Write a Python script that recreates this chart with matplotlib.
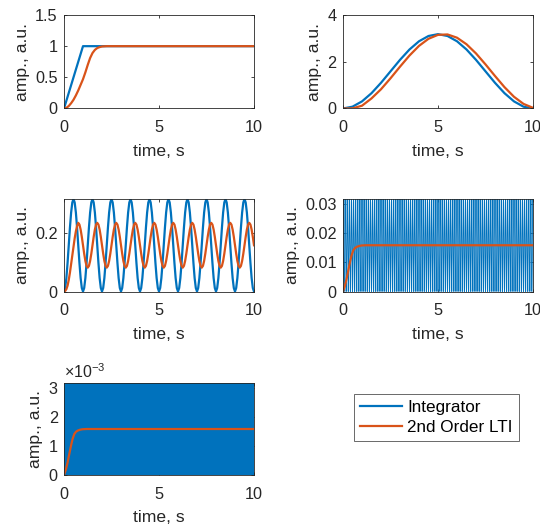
import numpy as np
import matplotlib
matplotlib.use("Agg")
import matplotlib.pyplot as plt
from matplotlib.ticker import FuncFormatter

plt.rcParams['font.family'] = ['Liberation Sans', 'DejaVu Sans']
plt.rcParams['mathtext.fontset'] = 'custom'
plt.rcParams['mathtext.rm'] = 'Liberation Sans'
plt.rcParams['mathtext.it'] = 'Liberation Sans'

# ---------------- data ----------------
series_labels = ["Integrator", "2nd Order LTI"]
x_ticks = [0, 5, 10]

# Panel 1: ramp to 1
p1_t_blue = [0, 1, 10]
p1_blue = [0, 1, 1]
p1_t_orange = [0, 0.125, 0.25, 0.375, 0.5, 0.625, 0.75, 0.875, 1.0, 1.125, 1.25,
               1.375, 1.5, 1.625, 1.75, 1.875, 2.0, 2.25, 10]
p1_orange = [0, 0.01, 0.04, 0.085, 0.14, 0.21, 0.29, 0.38, 0.47, 0.58, 0.70,
             0.81, 0.89, 0.94, 0.97, 0.985, 0.995, 1.0, 1.0]

# Panel 2: one slow hump
p2_t = [0, 0.5, 1, 1.5, 2, 2.5, 3, 3.5, 4, 4.5, 5, 5.5, 6, 6.5, 7, 7.5, 8, 8.5,
        9, 9.5, 10]
p2_blue = [0, 0.078, 0.304, 0.655, 1.099, 1.59, 2.081, 2.525, 2.876, 3.102, 3.18,
           3.102, 2.876, 2.525, 2.081, 1.59, 1.099, 0.655, 0.304, 0.078, 0]
p2_orange = [0, 0.006, 0.12, 0.431, 0.823, 1.292, 1.789, 2.267, 2.679, 2.983, 3.151,
             3.168, 3.029, 2.749, 2.356, 1.887, 1.391, 0.913, 0.501, 0.197, 0.028]

# Repeating integrator cycle shape (fraction of peak), 16 samples per cycle
cycle_shape = [0, 0.038, 0.146, 0.309, 0.5, 0.691, 0.854, 0.962,
               1, 0.962, 0.854, 0.691, 0.5, 0.309, 0.146, 0.038]
peaks = [0.318, 0.0318, 0.00318]        # panels 3, 4, 5
n_cycles = [10, 100, 1000]               # cycles across the 10 s window

# Panel 3 orange: start-up then one repeating cycle (starting at a peak, t=0.75 s)
p3_orange_start = [0, 0.002, 0.008, 0.02, 0.04, 0.065, 0.095, 0.125, 0.155,
                   0.183, 0.207, 0.225]
p3_orange_cycle = [0.236, 0.230, 0.213, 0.188, 0.159, 0.130, 0.105, 0.088,
                   0.082, 0.088, 0.105, 0.130, 0.159, 0.188, 0.213, 0.230]
p3_step = 0.0625

# Panels 4, 5 orange: rise to plateau (fraction of plateau)
rise_t = [0, 0.1, 0.19, 0.28, 0.37, 0.45, 0.54, 0.63, 0.72, 0.85, 0.98, 1.2, 10]
rise_frac = [0, 0.12, 0.275, 0.46, 0.64, 0.78, 0.89, 0.94, 0.965, 0.985, 0.995, 1, 1]
plateaus = [0.0159, 0.00159]

y_limits = [(0, 1.5), (0, 4), (0, 0.318), (0, 0.0318), (0, 0.00318)]
y_ticks = [[0, 0.5, 1, 1.5], [0, 2, 4], [0, 0.2], [0, 0.01, 0.02, 0.03],
           [0, 0.001, 0.002, 0.003]]

# ---------------- figure ----------------
W, H = 540, 527
fig = plt.figure(figsize=(W / 100, H / 100), dpi=100)

def pos(l, r, t, b):
    return [l / W, 1 - b / H, (r - l) / W, (b - t) / H]

rects = [pos(64, 254, 15, 108.5), pos(343, 533, 15, 108.5),
         pos(64, 254, 199, 291.5), pos(343, 533, 199, 291.5),
         pos(64, 254, 383, 475)]

BLUE = '#0072BD'
ORANGE = '#D95319'
GRAY = '#262626'
LW = 1.6
FS = 11.7
LFS = 12.6

axes = [fig.add_axes(r) for r in rects]

# panel 1
axes[0].plot(p1_t_blue, p1_blue, color=BLUE, lw=LW)
axes[0].plot(p1_t_orange, p1_orange, color=ORANGE, lw=LW)
# panel 2
axes[1].plot(p2_t, p2_blue, color=BLUE, lw=LW)
axes[1].plot(p2_t, p2_orange, color=ORANGE, lw=LW)

# panels 3-5 blue
blue_lw = [LW, 0.55, LW]
for i, ax in enumerate(axes[2:5]):
    n = n_cycles[i]
    vals = np.append(np.tile(cycle_shape, n), 0.0) * peaks[i]
    t = np.linspace(0, 10, len(vals))
    ax.plot(t, vals, color=BLUE, lw=blue_lw[i])

# panel 3 orange
p3_vals = list(p3_orange_start) + list(np.tile(p3_orange_cycle, 10))
p3_t = np.arange(len(p3_vals)) * p3_step
keep = p3_t <= 10 + 1e-9
axes[2].plot(p3_t[keep], np.array(p3_vals)[keep], color=ORANGE, lw=LW)

# panels 4, 5 orange
for ax, pl in zip(axes[3:5], plateaus):
    ax.plot(rise_t, np.array(rise_frac) * pl, color=ORANGE, lw=LW)

fmt = FuncFormatter(lambda v, p: '%g' % v)
fmt_e3 = FuncFormatter(lambda v, p: '%g' % round(v * 1e3, 6))

for i, ax in enumerate(axes):
    ax.set_xlim(0, 10)
    ax.set_ylim(*y_limits[i])
    ax.set_xticks(x_ticks)
    ax.set_yticks(y_ticks[i])
    ax.xaxis.set_major_formatter(fmt)
    ax.yaxis.set_major_formatter(fmt_e3 if i == 4 else fmt)
    ax.tick_params(direction='in', length=2.5, width=0.6, colors=GRAY,
                   labelsize=FS, top=True, right=True)
    ax.tick_params(axis='x', pad=8.5)
    ax.tick_params(axis='y', pad=4.5)
    for s in ax.spines.values():
        s.set_color(GRAY)
        s.set_linewidth(0.6)
    ax.set_xlabel('time, s', fontsize=LFS, color=GRAY, labelpad=6)
    ax.set_ylabel('amp., a.u.', fontsize=LFS, color=GRAY, labelpad=4)

axes[4].text(0.0, 1.052, r'$\times10^{-3}$', transform=axes[4].transAxes,
             fontsize=11.5, color=GRAY, ha='left', va='baseline')

h1, = axes[0].plot([], [], color=BLUE, lw=LW)
h2, = axes[0].plot([], [], color=ORANGE, lw=LW)
leg = fig.legend([h1, h2], series_labels, loc='upper left',
                 bbox_to_anchor=(354 / W, 1 - 394 / H), fontsize=12.3,
                 frameon=True, fancybox=False, borderaxespad=0,
                 handlelength=2.45, handletextpad=0.33, borderpad=0.35,
                 labelspacing=0.3)
leg.get_frame().set_edgecolor(GRAY)
leg.get_frame().set_linewidth(0.6)
for txt in leg.get_texts():
    txt.set_color('black')

fig.savefig('out.png', dpi=100)
